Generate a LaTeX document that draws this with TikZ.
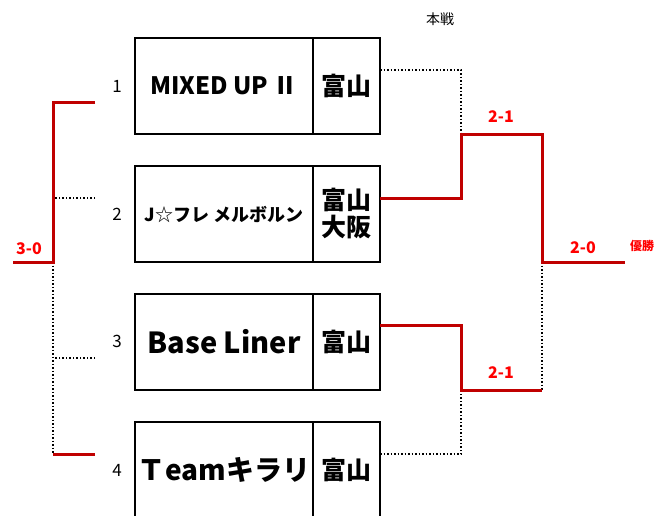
\documentclass[tikz,border=0pt]{standalone}
\usepackage{fontspec}
\setmainfont{Noto Sans CJK JP}
\usetikzlibrary{positioning}
\definecolor{bracketred}{HTML}{C00000}
\definecolor{scorered}{HTML}{FF0000}

\begin{document}
\begin{tikzpicture}
            [%%%%%%%%%%%%%%%%%%%%%%%%%%%%%%%%%%%%%%%%%%%%%%%%%%%%%%%%%%
                x=1pt,y=-1pt,
                team/.style={rectangle,draw=black,line width=2pt,outer sep=0pt,
                              inner sep=0pt,minimum width=178pt,minimum height=96pt,
                              font=\bfseries},
                loc/.style={rectangle,draw=black,line width=2pt,outer sep=0pt,
                              inner sep=0pt,minimum width=67pt,minimum height=96pt,
                              font=\fontsize{25}{27}\selectfont\bfseries,align=center},
                num/.style={font=\fontsize{17}{17}\selectfont},
                score/.style={text=scorered,font=\fontsize{16}{16}\selectfont\bfseries},
                win/.style={draw=bracketred,line width=3pt},
                lose/.style={draw=black,line width=1.5pt,dotted}
            ]%%%%%%%%%%%%%%%%%%%%%%%%%%%%%%%%%%%%%%%%%%%%%%%%%%%%%%%%%%
            \useasboundingbox (0,0) rectangle (662,515);

            \node[team] (t1) at (224,86) {\fontsize{24}{24}\selectfont MIXED UP Ⅱ};
            \node[loc] (l1) [right=0pt of t1] {富山};
            \node[team] (t2) at (224,214) {\fontsize{18}{18}\selectfont J{\mdseries ☆}フレ メルボルン};
            \node[loc] (l2) [right=0pt of t2] {富山\\大阪};
            \node[team] (t3) at (224,341.5) {\fontsize{29}{29}\selectfont Base Liner};
            \node[loc] (l3) [right=0pt of t3] {富山};
            \node[team] (t4) at (224,470) {\fontsize{28}{28}\selectfont Ｔeamキラリ};
            \node[loc] (l4) [right=0pt of t4] {富山};

            \node[num] (n1) at (117,86) {1};
            \node[num] (n2) at (117,214) {2};
            \node[num] (n3) at (117,341.5) {3};
            \node[num] (n4) at (117,470) {4};

            \node[font=\fontsize{14}{14}\selectfont] (title) at (440,19) {本戦};

            % left side
            \coordinate (p1) at (95,102);
            \coordinate (p2) at (95,198);
            \coordinate (p3) at (95,358);
            \coordinate (p4) at (95,454);
            \coordinate (j0) at (53,262);
            \coordinate (w0) at (13,262);

            \draw [lose] (p2) -- (p2 -| j0);
            \draw [lose] (p3) -- (p3 -| j0);
            \draw [lose] (j0) -- (j0 |- p4);
            \draw [win] (p1) -| (j0) -- (w0);
            \draw [win] (p4) -- (p4 -| j0);
            \node[score] (s0) at (29,249) {3-0};

            % right side
            \coordinate (r1) at (461,134);
            \coordinate (r2) at (461,390);
            \coordinate (f) at (542,262);
            \coordinate (w1) at (625,262);

            \draw [lose] ([yshift=16pt]l1.east) -| (r1);
            \draw [lose] ([yshift=16pt]l4.east) -| (r2);
            \draw [lose] (f) -- (f |- r2);
            \draw [win] ([yshift=16pt]l2.east) -| (r1) -- (r1 -| f) -- (f) -- (w1);
            \draw [win] ([yshift=16pt]l3.east) -| (r2) -- (r2 -| f);

            \node[score] (s1) at (501,117) {2-1};
            \node[score] (s2) at (501,373) {2-1};
            \node[score] (s3) at (583,248) {2-0};
            \node[text=scorered,font=\fontsize{12}{12}\selectfont\bfseries] (champ) at (642,246) {優勝};
        \end{tikzpicture}
\end{document}
